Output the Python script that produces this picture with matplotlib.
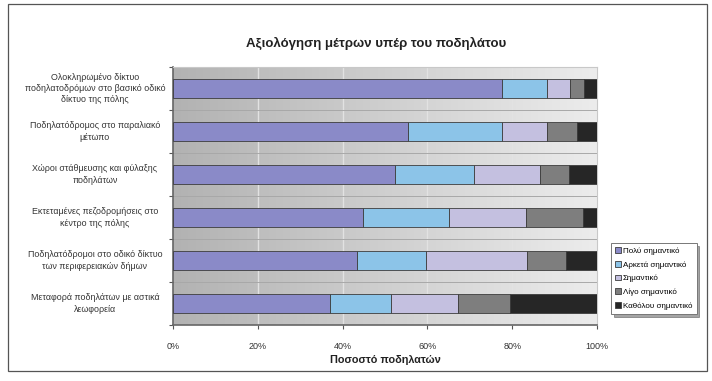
import numpy as np
import matplotlib.pyplot as plt
from matplotlib.colors import LinearSegmentedColormap
from matplotlib.patches import Rectangle

# Δεδομένα (ποσοστά ανά μέτρο)
metra = ["Ολοκληρωμένο δίκτυο\nποδηλατοδρόμων στο βασικό οδικό\nδίκτυο της πόλης",
         "Ποδηλατόδρομος στο παραλιακό\nμέτωπο",
         "Χώροι στάθμευσης και φύλαξης\nποδηλάτων",
         "Εκτεταμένες πεζοδρομήσεις στο\nκέντρο της πόλης",
         "Ποδηλατόδρομοι στο οδικό δίκτυο\nτων περιφερειακών δήμων",
         "Μεταφορά ποδηλάτων με αστικά\nλεωφορεία"]
katigories = ["Πολύ σημαντικό", "Αρκετά σημαντικό", "Σημαντικό",
              "Λίγο σημαντικό", "Καθόλου σημαντικό"]
poly = [77.7, 55.5, 52.4, 44.8, 43.3, 37.1]
arketa = [10.4, 22.2, 18.5, 20.3, 16.3, 14.3]
simantiko = [5.5, 10.5, 15.7, 18.1, 23.9, 15.7]
ligo = [3.4, 7.1, 6.7, 13.6, 9.3, 12.4]
katholou = [3.0, 4.7, 6.7, 3.2, 7.2, 20.5]
xticks = [0, 20, 40, 60, 80, 100]

xromata = ["#8a8ac8", "#8cc4e8", "#c4c0e0", "#7e7e7e", "#262626"]

plt.rcParams['font.family'] = ['Liberation Sans', 'DejaVu Sans']

fig = plt.figure(figsize=(7.12, 3.81), dpi=100)
# πλαίσιο γραφήματος
fig.patches.append(Rectangle((8 / 712, 10 / 381), 699 / 712, 367 / 381, transform=fig.transFigure,
                             fill=False, edgecolor="#555555", lw=0.9))
ax = fig.add_axes([173 / 712, 56 / 381, 424 / 712, 258 / 381])

# φόντο με διαβάθμιση
cmap = LinearSegmentedColormap.from_list("bg", ["#b2b2b2", "#cfcfcf", "#ececec"])
ax.imshow(np.linspace(0, 1, 256).reshape(1, -1), extent=[0, 1, 0, 1], transform=ax.transAxes,
          cmap=cmap, aspect="auto", zorder=0)

y = np.arange(len(metra))
seires = [poly, arketa, simantiko, ligo, katholou]
left = np.zeros(len(metra))
for vals, lab, c in zip(seires, katigories, xromata):
    ax.barh(y, vals, left=left, height=0.42, color=c, edgecolor="#3c3c3c", lw=0.6,
            label=lab, zorder=3)
    left += np.array(vals)

ax.set_xlim(0, 100)
ax.set_ylim(len(metra) - 0.5, -0.5)
for xv in xticks[1:-1]:
    ax.axvline(xv, color="#e2e2e2", lw=1.0, zorder=1)
for b in np.arange(len(metra) - 1) + 0.5:
    ax.axhline(b, color="#a8a8a8", lw=0.7, zorder=1)

ax.set_xticks(xticks)
ax.set_xticklabels([f"{v}%" for v in xticks], fontsize=6.5, color="#333333")
ax.set_yticks(np.arange(len(metra) + 1) - 0.5)
ax.set_yticklabels([])
ax.tick_params(axis="both", length=3, width=0.8, color="#555555")
ax.tick_params(axis="x", pad=9)
for i, t in enumerate(metra):
    ax.text(-0.184, i, t, transform=ax.get_yaxis_transform(), ha="center", va="center",
            fontsize=6.4, color="#333333", linespacing=1.3)

for s in ["top", "right"]:
    ax.spines[s].set_color("#c8c8c8")
for s in ["left", "bottom"]:
    ax.spines[s].set_color("#666666")
    ax.spines[s].set_linewidth(1.2)

fig.text(376 / 712, 1 - 43 / 381, "Αξιολόγηση μέτρων υπέρ του ποδηλάτου", fontsize=9.5,
         fontweight="bold", ha="center", va="center", color="#222222")
ax.set_xlabel("Ποσοστό ποδηλατών", fontsize=7.8, fontweight="bold", labelpad=3, color="#222222")

leg = ax.legend(loc="upper left", bbox_to_anchor=(607 / 712, 1 - 239 / 381), bbox_transform=fig.transFigure,
                fontsize=5.8, frameon=True, fancybox=False, shadow=True, handlelength=0.7,
                handleheight=0.7, handletextpad=0.2, labelspacing=0.75, borderpad=0.55, edgecolor="#777777")
leg.get_frame().set_linewidth(0.7)

fig.savefig("out.png", dpi=100)
